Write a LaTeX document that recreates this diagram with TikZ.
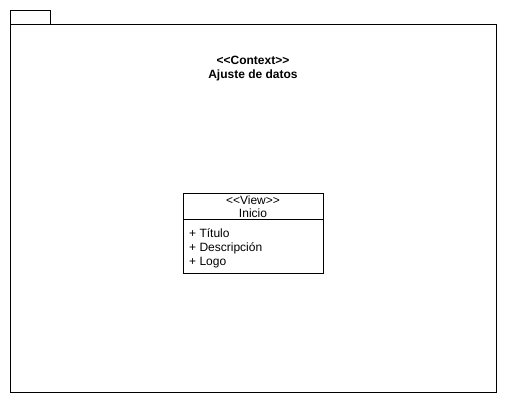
\documentclass[tikz,border=0pt]{standalone}
\usepackage{fontspec}
\setmainfont{Liberation Sans}
\usepackage{tikz}
\usetikzlibrary{positioning}
\tikzset{
    box/.style={rectangle,draw=black,line width=1pt,inner sep=0pt,outer sep=0pt},
    txt/.style={font=\fontsize{12}{14}\selectfont,inner sep=0pt}
}
\begin{document}
\begin{tikzpicture}[x=1pt,y=1pt]
        \useasboundingbox (0,1) rectangle (507,405);
        % Package
        \node[box,anchor=north west,minimum width=40pt,minimum height=14pt] (tab) at (10,394) {};
        \node[box,anchor=north west,minimum width=486pt,minimum height=368pt] (pkg) at (tab.south west) {};
        \node[txt,font=\fontsize{12}{14}\selectfont\bfseries,align=center] (pkgname) at (253,336) {{<}{<}Context{>}{>}\\Ajuste de datos};
        
        % View class
        \node[box,anchor=north west,minimum width=140pt,minimum height=26pt] (viewhead) at (183,211) {};
        \node[txt,font=\fontsize{12}{13}\selectfont,align=center] (viewname) at ([yshift=0.5pt]viewhead.center) {{<}{<}View{>}{>}\\Inicio};
        \node[box,anchor=north west,minimum width=140pt,minimum height=54pt] (viewattr) at (viewhead.south west) {};
        \node[txt,align=left,anchor=west] (attrs) at ([xshift=6pt,yshift=-1pt]viewattr.west) {+ Título\\+ Descripción\\+ Logo};
    \end{tikzpicture}
\end{document}
